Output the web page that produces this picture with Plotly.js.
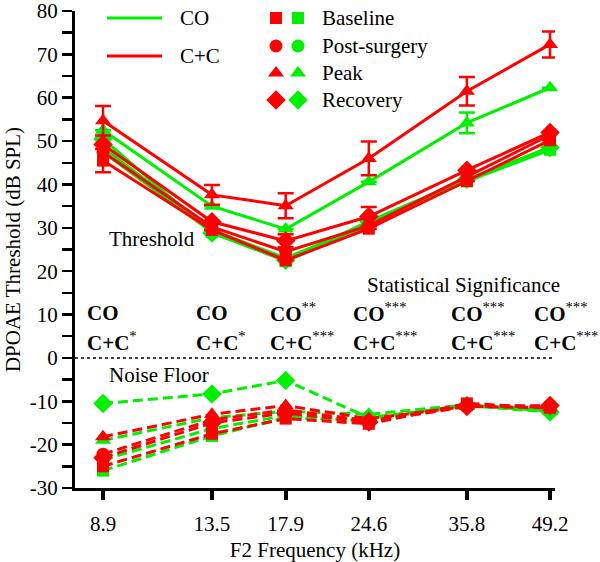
<!DOCTYPE html>
<html><head><meta charset="utf-8">
<script src="https://cdn.plot.ly/plotly-3.0.1.min.js"></script>
<style>html,body{margin:0;padding:0;background:#fff}#chart{width:600px;height:562px}</style>
</head><body><div id="chart"></div>
<script>
// ---- data ----
const freq = [8.9, 13.5, 17.9, 24.6, 35.8, 49.2];
const tickLabels = ['8.9', '13.5', '17.9', '24.6', '35.8', '49.2'];
// Threshold (solid lines)
const coBase = [47.5, 29.0, 22.3, 30.5, 40.7, 48.0];
const coPost = [48.5, 29.5, 23.0, 31.0, 41.0, 48.6];
const coPeak = [52.5, 35.0, 29.7, 40.6, 54.2, 62.3];
const coRec  = [50.5, 28.8, 22.5, 31.5, 41.2, 48.5];
const ccBase = [45.5, 29.5, 22.5, 29.8, 40.8, 50.2];
const ccPost = [47.5, 30.2, 24.5, 30.5, 41.8, 51.4];
const ccPeak = [54.7, 37.6, 35.1, 46.0, 61.5, 72.3];
const ccRec  = [49.2, 31.4, 27.0, 32.6, 43.3, 52.0];
// error bars
const coPeakErr = [0, 0, 0, 0, 2.4, 0];
const ccBaseErr = [2.7, 0, 0, 0, 0, 0];
const ccPeakErr = [3.4, 2.3, 2.9, 3.9, 3.3, 3.0];
const ccRecErr  = [0, 0, 1.5, 2.2, 0, 0];
// Noise floor (dashed lines)
const nfCoBase = [-26.0, -18.0, -13.8, -14.5, -11.0, -12.0];
const nfCoPost = [-23.5, -16.3, -13.3, -14.3, -11.0, -12.0];
const nfCoPeak = [-19.0, -13.8, -12.3, -13.0, -10.8, -12.3];
const nfCoRec  = [-10.5, -8.3, -5.2, -13.8, -11.0, -12.5];
const nfCcBase = [-25.0, -17.5, -14.0, -15.2, -10.5, -11.5];
const nfCcPost = [-22.2, -14.3, -12.0, -14.5, -11.0, -11.2];
const nfCcPeak = [-18.2, -13.0, -11.0, -14.0, -11.2, -11.5];
const nfCcRec  = [-23.0, -15.0, -12.7, -14.8, -11.2, -11.0];
// significance labels
const coSig = ['', '', '**', '***', '***', '***'];
const ccSig = ['*', '*', '***', '***', '***', '***'];
const groups = ['CO', 'C+C'];
const stages = ['Baseline', 'Post-surgery', 'Peak', 'Recovery'];
const yTickVals = [-30, -20, -10, 0, 10, 20, 30, 40, 50, 60, 70, 80];

// ---- styles ----
const GREEN = '#00f000', RED = '#ff0000';
const SYM = ['square', 'circle', 'triangle-up', 'diamond'];
const SIZE = [12, 13, 14, 15];
const FONT = '"Liberation Serif", "DejaVu Serif", serif';
const TOP = 11, BOTTOM = 488;

const traces = [];
function add(y, color, si, dash, err) {
  const t = {
    x: freq, y: y, type: 'scatter', mode: 'lines+markers', showlegend: false,
    line: {color: color, width: 3, dash: dash},
    marker: {symbol: SYM[si], size: SIZE[si], color: color},
    cliponaxis: false, hoverinfo: 'skip'
  };
  if (err) t.error_y = {type: 'data', array: err, visible: true, color: color, thickness: 2.5, width: 8};
  traces.push(t);
}
const dsh = '10px,5px';
// noise floor
[nfCoBase, nfCoPost, nfCoPeak, nfCoRec].forEach((a, i) => add(a, GREEN, i, dsh));
[nfCcBase, nfCcPost, nfCcPeak, nfCcRec].forEach((a, i) => add(a, RED, i, dsh));
// threshold
[[coBase, null], [coPost, null], [coPeak, coPeakErr], [coRec, null]].forEach((a, i) => add(a[0], GREEN, i, 'solid', a[1]));
[[ccBase, ccBaseErr], [ccPost, null], [ccPeak, ccPeakErr], [ccRec, ccRecErr]].forEach((a, i) => add(a[0], RED, i, 'solid', a[1]));

// ---- legend (drawn on overlay pixel axes) ----
const L = {xaxis: 'x2', yaxis: 'y2', type: 'scatter', showlegend: false, hoverinfo: 'skip', cliponaxis: false};
traces.push(Object.assign({}, L, {x: [107, 162], y: [18, 18], mode: 'lines', line: {color: GREEN, width: 3}}));
traces.push(Object.assign({}, L, {x: [107, 162], y: [56, 56], mode: 'lines', line: {color: RED, width: 3}}));
const legY = [18, 46, 73, 100];
stages.forEach((s, i) => {
  traces.push(Object.assign({}, L, {x: [276], y: [legY[i]], mode: 'markers', marker: {symbol: SYM[i], size: SIZE[i], color: RED}}));
  traces.push(Object.assign({}, L, {x: [298], y: [legY[i]], mode: 'markers', marker: {symbol: SYM[i], size: SIZE[i], color: GREEN}}));
});

const ann = [];
const txt = (o) => Object.assign({showarrow: false, font: {family: FONT, size: 21, color: '#000'}}, o);
ann.push(txt({xref: 'x2', yref: 'y2', x: 178, y: 18, xanchor: 'left', yanchor: 'middle', text: groups[0]}));
ann.push(txt({xref: 'x2', yref: 'y2', x: 178, y: 56, xanchor: 'left', yanchor: 'middle', text: groups[1]}));
stages.forEach((s, i) => ann.push(txt({xref: 'x2', yref: 'y2', x: 320, y: legY[i], xanchor: 'left', yanchor: 'middle', text: s})));
ann.push(txt({xref: 'x2', yref: 'y2', x: 107, y: 239, xanchor: 'left', yanchor: 'middle', text: 'Threshold'}));
ann.push(txt({xref: 'x2', yref: 'y2', x: 107, y: 375, xanchor: 'left', yanchor: 'middle', text: 'Noise Floor'}));
ann.push(txt({xref: 'x2', yref: 'y2', x: 365, y: 285, xanchor: 'left', yanchor: 'middle', text: 'Statistical Significance'}));
freq.forEach((f, i) => {
  const sup = (s) => s ? '<sup>' + s + '</sup>' : '';
  ann.push(txt({xref: 'x', yref: 'y', x: Math.log10(f), y: 10.4, xanchor: 'left', yanchor: 'middle', xshift: -18,
    text: '<b>' + groups[0] + '</b>' + sup(coSig[i])}));
  ann.push(txt({xref: 'x', yref: 'y', x: Math.log10(f), y: 3.8, xanchor: 'left', yanchor: 'middle', xshift: -18,
    text: '<b>' + groups[1] + '</b>' + sup(ccSig[i])}));
});

const layout = {
  width: 600, height: 562,
  margin: {l: 75, r: 45, t: TOP, b: 562 - BOTTOM},
  paper_bgcolor: '#fff', plot_bgcolor: '#fff',
  showlegend: false,
  font: {family: FONT, size: 21, color: '#000'},
  xaxis: {
    type: 'log', range: [Math.log10(8.9) - 28 / 602, Math.log10(49.2) + 5 / 602],
    tickvals: freq, ticktext: tickLabels, ticks: 'outside', ticklen: 9, tickwidth: 4, tickcolor: '#000',
    showline: true, linewidth: 3, linecolor: '#000', showgrid: false, zeroline: false,
    tickfont: {family: FONT, size: 21}, ticklabelstandoff: 6, ticklabeloverflow: 'allow',
    title: {text: 'F2 Frequency (kHz)', font: {family: FONT, size: 21}, standoff: 8}
  },
  yaxis: {
    range: [-30, 80], tickmode: 'array', tickvals: yTickVals, ticktext: yTickVals.map(String),
    ticks: 'outside', ticklen: 10, tickwidth: 2.5, tickcolor: '#000', ticklabeloverflow: 'allow',
    minor: {dtick: 5, ticks: 'outside', ticklen: 10, tickwidth: 2.5, tickcolor: '#000', showgrid: false},
    showline: true, linewidth: 3, linecolor: '#000', showgrid: false, zeroline: false,
    tickfont: {family: FONT, size: 21},
    title: {text: 'DPOAE Threshold (dB SPL)', font: {family: FONT, size: 21}, standoff: 4}
  },
  xaxis2: {overlaying: 'x', range: [75, 555], visible: false, fixedrange: true},
  yaxis2: {overlaying: 'y', range: [BOTTOM, TOP], visible: false, fixedrange: true},
  shapes: [{type: 'line', xref: 'paper', x0: 0, x1: 1, yref: 'y', y0: 0, y1: 0, line: {color: '#000', width: 1.5, dash: 'dot'}}],
  annotations: ann
};
Plotly.newPlot('chart', traces, layout, {staticPlot: true, displayModeBar: false});
</script></body></html>
